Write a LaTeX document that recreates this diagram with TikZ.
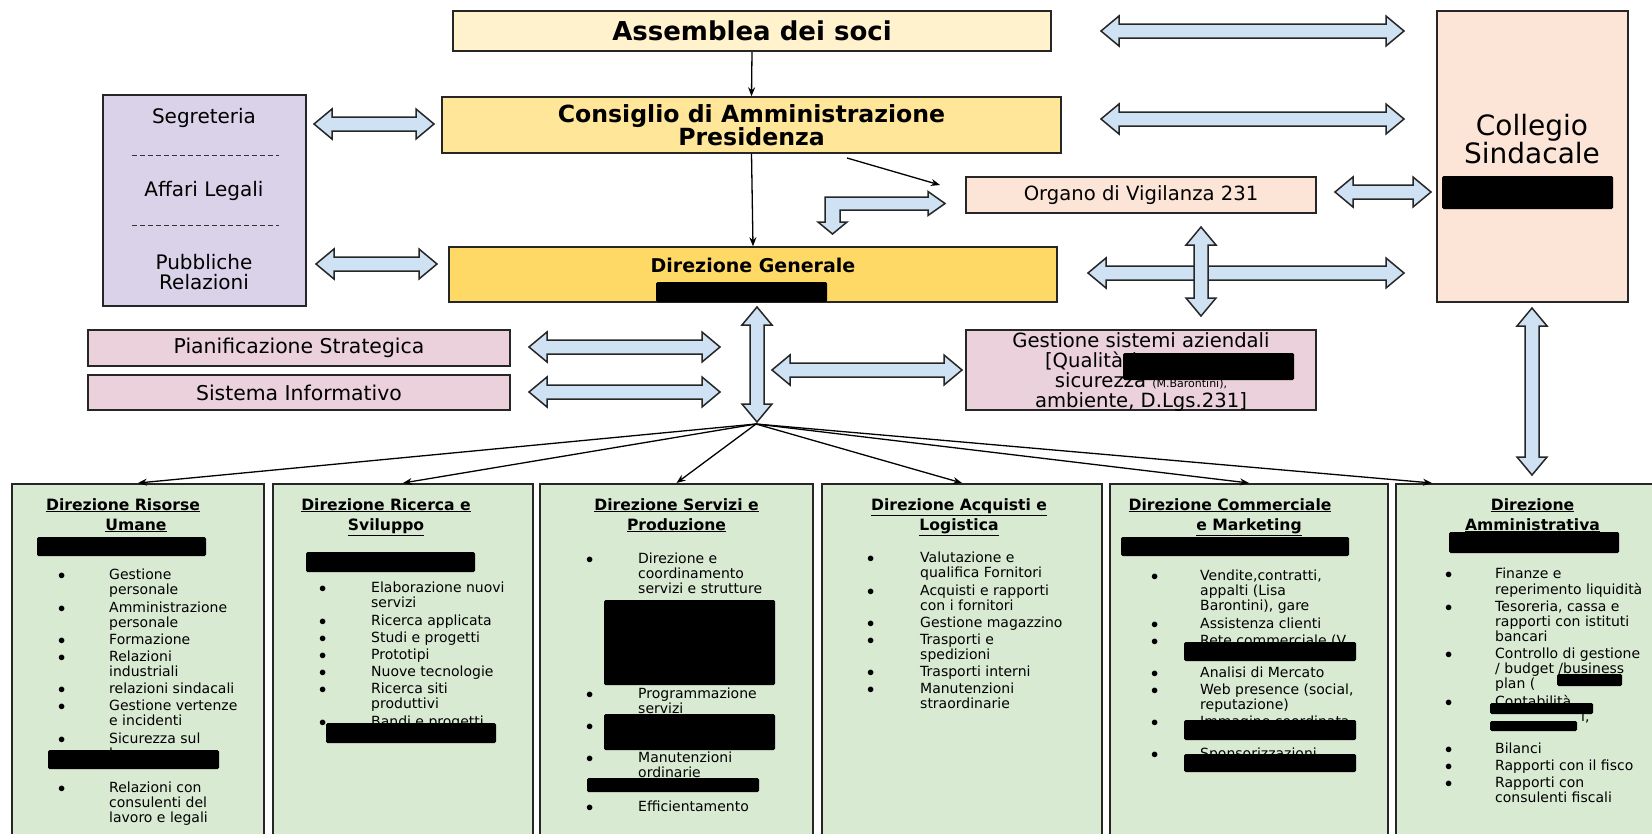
\documentclass[tikz,border=0pt]{standalone}
\usepackage{fontspec}
\setmainfont{DejaVu Sans}
\usetikzlibrary{calc}
\usetikzlibrary{arrows.meta}
\definecolor{soci}{HTML}{FFF2CC}
\definecolor{consiglio}{HTML}{FFE699}
\definecolor{generale}{HTML}{FFD966}
\definecolor{staff}{HTML}{D9D2E9}
\definecolor{sistemi}{HTML}{EAD1DC}
\definecolor{controllo}{HTML}{FCE4D6}
\definecolor{direzioni}{HTML}{D9EAD3}
\definecolor{arrowblue}{HTML}{CFE2F3}
\def\ShaftHalf{7}
\def\HeadHalf{15}
\def\HeadLength{18}
\newcommand{\FontAt}[2]{\fontsize{#1}{#2}\selectfont}
\newcommand{\TightLines}{\lineskiplimit=-50pt\relax}
\newcommand{\Bul}{$\bullet$ &}
\newcommand{\Sep}{\\[2.2pt]}
\newcommand{\ItemList}[2]{\begin{tabular}{@{}p{#1pt}@{}l@{}}#2\end{tabular}}
% horizontal double block arrow: x1, x2, y
\newcommand{\HArrow}[3]{%
  \draw[blockarrow] (#1,#3) -- ({#1+\HeadLength},{#3-\HeadHalf}) -- ({#1+\HeadLength},{#3-\ShaftHalf})
    -- ({#2-\HeadLength},{#3-\ShaftHalf}) -- ({#2-\HeadLength},{#3-\HeadHalf}) -- (#2,#3)
    -- ({#2-\HeadLength},{#3+\HeadHalf}) -- ({#2-\HeadLength},{#3+\ShaftHalf})
    -- ({#1+\HeadLength},{#3+\ShaftHalf}) -- ({#1+\HeadLength},{#3+\HeadHalf}) -- cycle;}
% vertical double block arrow: x, y1, y2
\newcommand{\VArrow}[3]{%
  \draw[blockarrow] (#1,#2) -- ({#1-\HeadHalf},{#2+\HeadLength}) -- ({#1-\ShaftHalf},{#2+\HeadLength})
    -- ({#1-\ShaftHalf},{#3-\HeadLength}) -- ({#1-\HeadHalf},{#3-\HeadLength}) -- (#1,#3)
    -- ({#1+\HeadHalf},{#3-\HeadLength}) -- ({#1+\ShaftHalf},{#3-\HeadLength})
    -- ({#1+\ShaftHalf},{#2+\HeadLength}) -- ({#1+\HeadHalf},{#2+\HeadLength}) -- cycle;}
\tikzset{
  orgbox/.style={draw=black!85, line width=1.5pt, inner sep=0pt, align=center},
  dirbox/.style={orgbox, fill=direzioni, line width=2pt, anchor=north west, minimum height=360pt},
  blockarrow/.style={draw=black!85, line width=1.5pt, fill=arrowblue, line join=miter},
  thinarrow/.style={-{Stealth[length=9pt,width=7pt]}, line width=1.3pt},
  redact/.style={fill=black, rounded corners=1.5pt},
  dtitle/.style={font=\bfseries\FontAt{15.6}{20}, align=center, inner sep=0pt, anchor=north},
  dlist/.style={font=\FontAt{14}{14.6}, inner sep=0pt, anchor=north west},
}

\begin{document}
\begin{tikzpicture}[x=1pt,y=-1pt]
  \useasboundingbox (0,0) rectangle (1652,833);
  \fill[white] (0,0) rectangle (1652,833);
  % top of the chart
  \node[orgbox, fill=soci, minimum width=598pt, minimum height=40pt, font=\bfseries\FontAt{26}{26}]
    (ass) at (752,31) {Assemblea dei soci};
  \node[orgbox, fill=consiglio, minimum width=619pt, minimum height=56pt, font=\bfseries\FontAt{23.6}{23.5}]
    (cda) at (751.5,125) {Consiglio di Amministrazione\\Presidenza};
  \node[orgbox, fill=generale, minimum width=608pt, minimum height=55pt] (dg) at (753,274.5) {};
  \node[font=\bfseries\FontAt{19}{19}, inner sep=0pt] (dgtext) at (753,265.5) {Direzione Generale};
  % staff
  \node[orgbox, fill=staff, minimum width=203pt, minimum height=211pt] (staff) at (204.5,200.5) {};
  \node[font=\FontAt{20}{20}, inner sep=0pt] (segr) at (204,118) {Segreteria};
  \node[font=\FontAt{20}{20}, inner sep=0pt] (legali) at (204,191) {Affari Legali};
  \node[font=\FontAt{20}{20}, inner sep=0pt, align=center] (pr) at (204,272) {Pubbliche\\Relazioni};
  \coordinate (dashA) at (132,155);
  \coordinate (dashB) at (132,225);
  \draw[black!80, line width=1pt, dash pattern=on 5pt off 3pt] (dashA) -- ++(147,0);
  \draw[black!80, line width=1pt, dash pattern=on 5pt off 3pt] (dashB) -- ++(147,0);
  \node[orgbox, fill=sistemi, minimum width=422pt, minimum height=36pt, font=\FontAt{20.4}{20.4}]
    (pian) at (299,348) {Pianificazione Strategica};
  \node[orgbox, fill=sistemi, minimum width=422pt, minimum height=35pt, font=\FontAt{20.4}{20.4}]
    (sist) at (299,392.5) {Sistema Informativo};
  % control bodies
  \node[orgbox, fill=controllo, minimum width=350pt, minimum height=36pt, font=\FontAt{19.6}{19.6}]
    (odv) at (1141,195) {Organo di Vigilanza 231};
  \node[orgbox, fill=sistemi, minimum width=350pt, minimum height=80pt] (gsa) at (1141,370) {};
  \node[font=\FontAt{19.6}{20.2}\TightLines, align=center, inner sep=0pt]
    (gsatext) at (1141,372) {Gestione sistemi aziendali\\
      {}[Qualità (\rule{100pt}{0pt}\\
      sicurezza {\FontAt{11}{11}(M.Barontini),}\\
      ambiente, D.Lgs.231]};
  \node[orgbox, fill=controllo, minimum width=191pt, minimum height=291pt] (cs) at (1532.5,156.5) {};
  \node[font=\FontAt{28}{28}, align=center, inner sep=0pt] (cstext) at (1532,139.5) {Collegio\\Sindacale};
  % direzioni
  \node[dirbox, minimum width=252pt] (d1) at (11,483) {};
  \node[dirbox, minimum width=260pt] (d2) at (272,483) {};
  \node[dirbox, minimum width=273pt] (d3) at (539,483) {};
  \node[dirbox, minimum width=280pt] (d4) at (821,483) {};
  \node[dirbox, minimum width=278pt] (d5) at (1109,483) {};
  \node[dirbox, minimum width=265pt] (d6) at (1395,483) {};
  \foreach \n/\ta/\tb/\dx/\pad in {1/Direzione Risorse/Umane/-2/26, 2/Direzione Ricerca e/Sviluppo/-17/0,
      3/Direzione Servizi e/Produzione/0/0, 4/Direzione Acquisti e/Logistica/-3/0,
      5/Direzione Commerciale/e Marketing/0/38, 6/Direzione/Amministrativa/4/0}
    \node[dtitle] (t\n) at ($(d\n.north)+(\dx,15)$) {\underline{\ta}\rule{\pad pt}{0pt}\\\underline{\tb}};
  % task lists
  \node[dlist] (l1) at (58,569) {\ItemList{51}{%
    \Bul Gestione\\ & personale\Sep
    \Bul Amministrazione\\ & personale\Sep
    \Bul Formazione\Sep
    \Bul Relazioni\\ & industriali\Sep
    \Bul relazioni sindacali\Sep
    \Bul Gestione vertenze\\ & e incidenti\Sep
    \Bul Sicurezza sul\\ & lavoro\Sep
    & \Sep
    \Bul Relazioni con\\ & consulenti del\\ & lavoro e legali}};
  \node[dlist] (l2) at (319,582) {\ItemList{52}{%
    \Bul Elaborazione nuovi\\ & servizi\Sep
    \Bul Ricerca applicata\Sep
    \Bul Studi e progetti\Sep
    \Bul Prototipi\Sep
    \Bul Nuove tecnologie\Sep
    \Bul Ricerca siti\\ & produttivi\Sep
    \Bul Bandi e progetti}};
  \node[dlist] (l3) at (586,553) {\ItemList{52}{%
    \Bul Direzione e\\ & coordinamento\\ & servizi e strutture\\ &\\ &\\ &\\ &\\ &\\ &\Sep
    \Bul Programmazione\\ & servizi\Sep
    \Bul \\ &\Sep
    \Bul Manutenzioni\\ & ordinarie\Sep
    & \Sep
    \Bul Efficientamento}};
  \node[dlist] (l4) at (867,552) {\ItemList{53}{%
    \Bul Valutazione e\\ & qualifica Fornitori\Sep
    \Bul Acquisti e rapporti\\ & con i fornitori\Sep
    \Bul Gestione magazzino\Sep
    \Bul Trasporti e\\ & spedizioni\Sep
    \Bul Trasporti interni\Sep
    \Bul Manutenzioni\\ & straordinarie}};
  \node[dlist] (l5) at (1151,570) {\ItemList{49}{%
    \Bul Vendite,contratti,\\ & appalti (Lisa\\ & Barontini), gare\Sep
    \Bul Assistenza clienti\Sep
    \Bul Rete commerciale (V.\\ &\Sep
    \Bul Analisi di Mercato\Sep
    \Bul Web presence (social,\\ & reputazione)\Sep
    \Bul Immagine coordinata\\ &\Sep
    \Bul Sponsorizzazioni\\ &}};
  \node[dlist] (l6) at (1445,568) {\ItemList{50}{%
    \Bul Finanze e\\ & reperimento liquidità\Sep
    \Bul Tesoreria, cassa e\\ & rapporti con istituti\\ & bancari\Sep
    \Bul Controllo di gestione\\ & / budget /business\\ & plan (\Sep
    \Bul Contabilità\\ & \hspace*{86pt}i,\\ &\Sep
    \Bul Bilanci\Sep
    \Bul Rapporti con il fisco\Sep
    \Bul Rapporti con\\ & consulenti fiscali}};
  % redacted names
  \fill[redact] (656,282) rectangle (827,302);
  \fill[redact] (1442,176) rectangle (1613,209);
  \fill[redact] (1123,353) rectangle (1294,380);
  \fill[redact] (37,537) rectangle (206,556);
  \fill[redact] (48,750) rectangle (219,769);
  \fill[redact] (306,552) rectangle (475,572);
  \fill[redact] (326,723) rectangle (496,743);
  \fill[redact] (604,600) rectangle (775,685);
  \fill[redact] (604,714) rectangle (775,750);
  \fill[redact] (587,778) rectangle (759,792);
  \fill[redact] (1121,537) rectangle (1349,556);
  \fill[redact] (1184,642) rectangle (1356,661);
  \fill[redact] (1184,720) rectangle (1356,740);
  \fill[redact] (1184,754) rectangle (1356,772);
  \fill[redact] (1449,532) rectangle (1619,553);
  \fill[redact] (1557,674) rectangle (1622,686);
  \fill[redact] (1490,703) rectangle (1593,714);
  \fill[redact] (1490,721) rectangle (1577,731);
  % hierarchy
  \draw[thinarrow] (ass.south) -- (cda.north);
  \draw[thinarrow] (cda.south) -- (dg.north);
  \coordinate (diagA) at (847,158);
  \coordinate (diagB) at (940,185);
  \draw[thinarrow] (diagA) -- (diagB);
  \coordinate (fan) at (756,424);
  \foreach \n in {1,...,5}
    \draw[thinarrow] (fan) -- (d\n.north);
  \draw[thinarrow] (fan) -- ($(d6.north west)+(37,0)$);
  % block arrows
  \HArrow{1101}{1404}{31}
  \HArrow{1101}{1404}{119}
  \HArrow{314}{434}{124}
  \HArrow{316}{437}{264}
  \HArrow{1088}{1404}{273}
  \HArrow{1335}{1431}{192}
  \HArrow{529}{720}{347}
  \HArrow{529}{720}{392}
  \HArrow{772}{962}{370}
  \VArrow{1201}{227}{316}
  \VArrow{1532}{308}{475}
  \VArrow{757}{307}{422}
  \draw[blockarrow] (945,203.5) -- (928,191.5) -- (928,197) -- (825,197) -- (825,222) -- (818,222)
    -- (832.5,234) -- (847,222) -- (840,222) -- (840,210) -- (928,210) -- (928,215.5) -- cycle;
\end{tikzpicture}
\end{document}
